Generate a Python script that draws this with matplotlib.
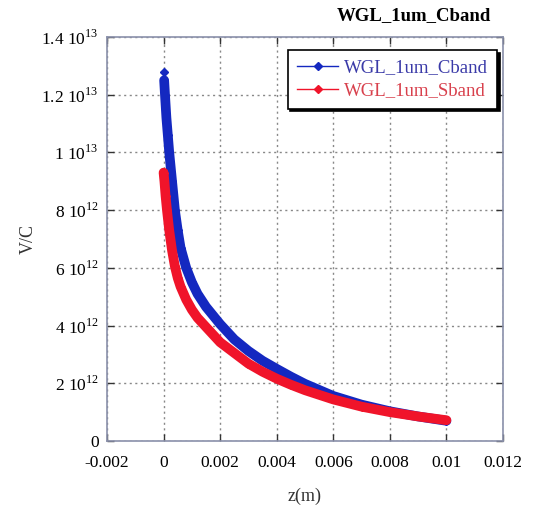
import matplotlib
matplotlib.use("Agg")
import matplotlib.pyplot as plt

# values (z in m, field in V/C)
z_cband = [0, 0.00002, 0.00005, 0.0001, 0.00015, 0.0002, 0.0003, 0.0004, 0.0005, 0.0006,
           0.0008, 0.001, 0.0012, 0.0015, 0.002, 0.0025, 0.003, 0.0035, 0.004, 0.0045,
           0.005, 0.006, 0.007, 0.008, 0.009, 0.01]
v_cband = [12.8e12, 12.5e12, 12.0e12, 11.2e12, 10.6e12, 10.0e12, 9.0e12, 8.0e12, 7.3e12, 6.7e12,
           6.0e12, 5.5e12, 5.1e12, 4.65e12, 4.05e12, 3.52e12, 3.12e12, 2.78e12, 2.5e12, 2.23e12,
           1.98e12, 1.56e12, 1.26e12, 1.03e12, 0.85e12, 0.7e12]

z_sband = [0, 0.00003, 0.00007, 0.00012, 0.0002, 0.0003, 0.0004, 0.0005, 0.0006, 0.0008,
           0.001, 0.0012, 0.0015, 0.002, 0.0025, 0.003, 0.0035, 0.004, 0.0045, 0.005,
           0.006, 0.007, 0.008, 0.009, 0.01]
v_sband = [9.3e12, 9.0e12, 8.5e12, 8.0e12, 7.3e12, 6.6e12, 6.05e12, 5.65e12, 5.35e12, 4.9e12,
           4.55e12, 4.27e12, 3.95e12, 3.42e12, 3.05e12, 2.68e12, 2.4e12, 2.16e12, 1.95e12, 1.76e12,
           1.44e12, 1.19e12, 1.0e12, 0.85e12, 0.72e12]

x_ticks = [-0.002, 0, 0.002, 0.004, 0.006, 0.008, 0.01, 0.012]
x_labels = ["-0.002", "0", "0.002", "0.004", "0.006", "0.008", "0.01", "0.012"]
y_ticks = [0, 2e12, 4e12, 6e12, 8e12, 1e13, 1.2e13, 1.4e13]
y_labels = ["0", r"2 10$^{12}$", r"4 10$^{12}$", r"6 10$^{12}$", r"8 10$^{12}$",
            r"1 10$^{13}$", r"1.2 10$^{13}$", r"1.4 10$^{13}$"]

plt.rcParams["font.family"] = ["Liberation Serif", "DejaVu Serif"]
plt.rcParams["mathtext.fontset"] = "custom"
plt.rcParams["mathtext.rm"] = "Liberation Serif"

blue = "#1428c0"
red = "#f0142a"
frame = "#8a90aa"

fig = plt.figure(figsize=(5.33, 5.11), dpi=100)
ax = fig.add_axes([107 / 533, 1 - 441 / 511, 396 / 533, 404 / 511])

# thick bands made of overlapping diamonds
ax.plot(z_cband[1:], v_cband[1:], color=blue, lw=7, solid_capstyle="round",
        solid_joinstyle="round", zorder=3)
ax.plot(z_cband, v_cband, color=blue, lw=1, marker="D", ms=4.5, zorder=3, label="WGL_1um_Cband")
ax.plot(z_sband, v_sband, color=red, lw=7, solid_capstyle="round",
        solid_joinstyle="round", zorder=4)
ax.plot(z_sband, v_sband, color=red, lw=1, marker="D", ms=4.5, zorder=4, label="WGL_1um_Sband")

ax.set_xlim(-0.002, 0.012)
ax.set_ylim(0, 1.4e13)
ax.set_xticks(x_ticks)
ax.set_xticklabels(x_labels)
ax.set_yticks(y_ticks)
ax.set_yticklabels(y_labels)
ax.tick_params(direction="in", length=5, width=1, color="#333333", labelsize=12.5,
               top=True, right=True)
ax.tick_params(axis="x", pad=10)
ax.tick_params(axis="y", pad=6)
ax.grid(True, linestyle=(0, (1.5, 2.5)), color="#888888", linewidth=1)
for s in ax.spines.values():
    s.set_color(frame)
    s.set_linewidth(1.2)

ax.set_xlabel("z(m)", fontsize=13, labelpad=12, color="#333333")
ax.set_ylabel("V/C", fontsize=13, labelpad=3, color="#333333")

fig.text(491 / 533, 1 - 16 / 511, "WGL_1um_Cband", ha="right", va="center",
         fontsize=13.5, fontweight="bold")

leg = ax.legend(loc="upper right", bbox_to_anchor=(497 / 533, 1 - 50 / 511),
                bbox_transform=fig.transFigure, borderaxespad=0, fontsize=13.5,
                fancybox=False, framealpha=1, edgecolor="black", handlelength=2.2,
                handletextpad=0.3, borderpad=0.5, labelspacing=0.3,
                shadow={"facecolor": "black", "edgecolor": "black", "alpha": 1})
leg.get_frame().set_linewidth(1.2)
leg.get_texts()[0].set_color("#3a3aa8")
leg.get_texts()[1].set_color("#d8404c")

fig.savefig("out.png", dpi=100)
